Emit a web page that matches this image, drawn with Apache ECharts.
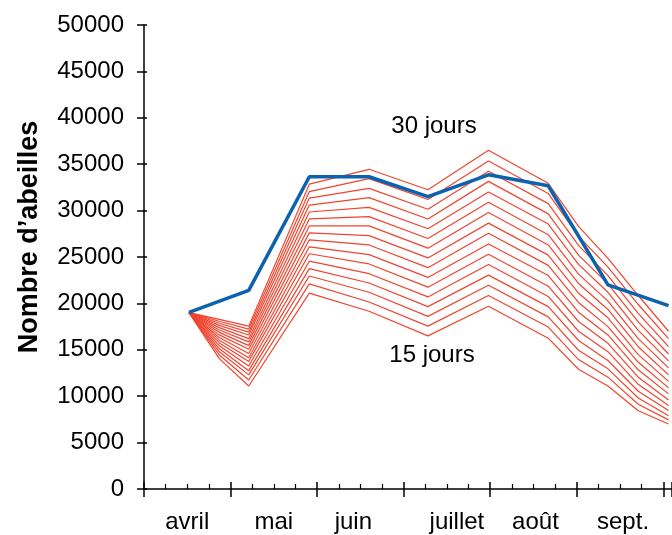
<!DOCTYPE html>
<html>
<head>
<meta charset="utf-8">
<script src="https://cdn.jsdelivr.net/npm/echarts@6/dist/echarts.min.js"></script>
<style>html,body{margin:0;padding:0;background:#fff;}#c{width:672px;height:535px;}</style>
</head>
<body>
<div id="c"></div>
<script>
// x positions in months since 1 April
const months = ['avril', 'mai', 'juin', 'juillet', 'août', 'sept.'];
const redX = [0.52, 0.87, 1.21, 1.91, 2.60, 3.28, 3.98, 4.67, 5.02, 5.36, 5.71, 6.06];
const blueX = [0.52, 1.21, 1.91, 2.60, 3.28, 3.98, 4.67, 5.36, 6.06];
const blueY = [19030, 21400, 33650, 33650, 31500, 33860, 32680, 22000, 19750];

const j30 = [19000, 18280, 17550, 32850, 34450, 32250, 36500, 32950, 28300, 24850, 20850, 17000];
const j29 = [19000, 18080, 17230, 32050, 33450, 31200, 35350, 31850, 27250, 23900, 19880, 16200];
const j28 = [19000, 17860, 16900, 31350, 32400, 30150, 34250, 30750, 26250, 23000, 18930, 15350];
const j27 = [19000, 17630, 16600, 30600, 31400, 29100, 33150, 29650, 25200, 22100, 18000, 14550];
const j26 = [19000, 17390, 16200, 29850, 30350, 28050, 32000, 28550, 24200, 21200, 17090, 13800];
const j25 = [19000, 17140, 15850, 29100, 29350, 27000, 30900, 27400, 23150, 20250, 16200, 13050];
const j24 = [19000, 16880, 15450, 28350, 28350, 25950, 29800, 26300, 22150, 19350, 15330, 12300];
const j23 = [19000, 16610, 15050, 27600, 27300, 24900, 28650, 25200, 21100, 18450, 14480, 11600];
const j22 = [19000, 16330, 14600, 26850, 26300, 23850, 27550, 24100, 20100, 17500, 13650, 10900];
const j21 = [19000, 16040, 14150, 26100, 25250, 22800, 26400, 23000, 19050, 16600, 12840, 10250];
const j20 = [19000, 15740, 13750, 25350, 24250, 21750, 25300, 21850, 18050, 15700, 12050, 9600];
const j19 = [19000, 15430, 13250, 24550, 23200, 20700, 24200, 20750, 17000, 14800, 11280, 9000];
const j18 = [19000, 15110, 12750, 23750, 22200, 19650, 23050, 19650, 16000, 13850, 10530, 8450];
const j17 = [19000, 14780, 12300, 22950, 21200, 18600, 21950, 18550, 14950, 12950, 9810, 7900];
const j16 = [19000, 14440, 11750, 22100, 20150, 17550, 20850, 17450, 13950, 12050, 9130, 7450];
const j15 = [19000, 14050, 11100, 21100, 19150, 16500, 19700, 16250, 12900, 11100, 8430, 7000];

const redLines = [j15, j16, j17, j18, j19, j20, j21, j22, j23, j24, j25, j26, j27, j28, j29, j30];
const redNames = ['15 jours','16 jours','17 jours','18 jours','19 jours','20 jours','21 jours','22 jours','23 jours','24 jours','25 jours','26 jours','27 jours','28 jours','29 jours','30 jours'];

const FONT = "'Liberation Sans', Arial, sans-serif";
const RED = '#F0442E';
const BLUE = '#0B62AE';

// per-label horizontal nudges (px) of the month names
const monthShift = [0, 0, -7, 10, 2, 3];
const rich = {};
monthShift.forEach((s, i) => {
  rich['m' + i] = {
    fontFamily: FONT, fontSize: 24, color: '#000',
    padding: s >= 0 ? [0, 0, 0, 2 * s] : [0, -2 * s, 0, 0]
  };
});

const series = redLines.map((arr, k) => ({
  name: redNames[k],
  type: 'line',
  xAxisIndex: 0, yAxisIndex: 0,
  data: arr.map((v, i) => [redX[i], v]),
  showSymbol: false, symbol: 'none',
  lineStyle: { color: RED, width: 1.2 },
  silent: true, animation: false, z: 2
}));
series.push({
  name: 'observé',
  type: 'line',
  xAxisIndex: 0, yAxisIndex: 0,
  data: blueX.map((x, i) => [x, blueY[i]]),
  showSymbol: false, symbol: 'none',
  lineStyle: { color: BLUE, width: 3.5 },
  silent: true, animation: false, z: 3
});

const chart = echarts.init(document.getElementById('c'), null, { renderer: 'canvas' });
chart.setOption({
  animation: false,
  backgroundColor: '#fff',
  grid: { left: 144, right: 0, top: 25, bottom: 46 },
  xAxis: [
    {
      type: 'value', min: 0, max: 6.1, interval: 1,
      axisLine: { show: true, lineStyle: { color: '#000', width: 1.5 } },
      axisTick: { show: true, inside: true, length: 7, lineStyle: { color: '#000', width: 1.5 } },
      minorTick: { show: true, splitNumber: 4, length: 5, lineStyle: { color: '#000', width: 1.2 } },
      splitLine: { show: false }, minorSplitLine: { show: false },
      axisLabel: {
        show: true, margin: 21, color: '#000', fontFamily: FONT, fontSize: 24,
        padding: [0, 0, 0, 86.5],
        showMaxLabel: false,
        rich: rich,
        formatter: v => (Number.isInteger(v) && months[v]) ? ('{m' + v + '|' + months[v] + '}') : ''
      }
    },
    {
      type: 'value', min: 0, max: 6.1, interval: 1, position: 'bottom',
      axisLine: { show: false },
      axisTick: { show: true, inside: false, length: 8, lineStyle: { color: '#000', width: 1.5 } },
      splitLine: { show: false }, axisLabel: { show: false }
    }
  ],
  yAxis: [
    {
      type: 'value', min: 0, max: 50000, interval: 5000,
      axisLine: { show: true, lineStyle: { color: '#000', width: 1.5 } },
      axisTick: { show: true, inside: false, length: 7, lineStyle: { color: '#000', width: 1.5 } },
      splitLine: { show: false },
      axisLabel: { margin: 20, color: '#000', fontFamily: FONT, fontSize: 24, formatter: v => String(v) }
    },
    {
      type: 'value', min: 0, max: 50000, interval: 5000, position: 'left',
      axisLine: { show: false },
      axisTick: { show: true, inside: true, length: 3, lineStyle: { color: '#000', width: 1.5 } },
      splitLine: { show: false }, axisLabel: { show: false }
    }
  ],
  graphic: [
    { type: 'text', x: 30, y: 237, rotation: Math.PI / 2,
      style: { text: 'Nombre d’abeilles', font: "bold 27px 'Liberation Sans', Arial, sans-serif", fill: '#000', align: 'center', verticalAlign: 'middle' } },
    { type: 'text', x: 434, y: 126,
      style: { text: '30 jours', font: "24px 'Liberation Sans', Arial, sans-serif", fill: '#000', align: 'center', verticalAlign: 'middle' } },
    { type: 'text', x: 432, y: 355,
      style: { text: '15 jours', font: "24px 'Liberation Sans', Arial, sans-serif", fill: '#000', align: 'center', verticalAlign: 'middle' } }
  ],
  series: series
});
</script>
</body>
</html>
